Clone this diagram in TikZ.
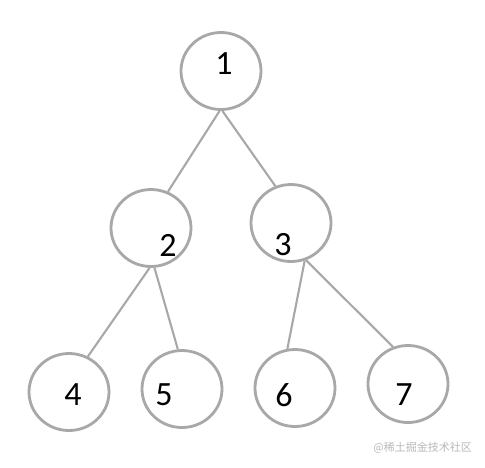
\documentclass[tikz,border=0pt]{standalone}
\usepackage{fontspec}
\setmainfont{Carlito}
\newfontfamily\cjk{Noto Sans CJK SC}
\usetikzlibrary{shapes.geometric}
\definecolor{ringgray}{RGB}{168,168,168}
\definecolor{markgray}{RGB}{185,185,185}
\tikzset{
  tnode/.style={draw=ringgray, line width=2.8pt, ellipse, minimum width=80pt, minimum height=77pt, inner sep=0pt},
  tlabel/.style={font=\fontsize{34}{34}\selectfont, text=black, inner sep=0pt},
  tedge/.style={draw=ringgray, line width=2.1pt},
}
\begin{document}
\begin{tikzpicture}[x=1pt,y=-1pt]
\useasboundingbox (0,0) rectangle (485,467);
\fill[white] (0,0) rectangle (485,467);
\node[tnode] (n1) at (221,71) {};
\node[tnode] (n2) at (151,228) {};
\node[tnode] (n3) at (291,223) {};
\node[tnode] (n4) at (69,392) {};
\node[tnode] (n5) at (182,389) {};
\node[tnode] (n6) at (295,388) {};
\node[tnode] (n7) at (408,384) {};
\node[tlabel] (t1) at (224,64) {1};
\node[tlabel] (t2) at (168,245) {2};
\node[tlabel] (t3) at (283,245) {3};
\node[tlabel] (t4) at (73,395) {4};
\node[tlabel] (t5) at (164,395) {5};
\node[tlabel] (t6) at (284,395) {6};
\node[tlabel] (t7) at (404,395) {7};
\draw[tedge] (n1.268) -- (n2.65);
\draw[tedge] (n1.272) -- (n3.113);
\draw[tedge] (n2.268) -- (n4.62);
\draw[tedge] (n2.275) -- (n5.96);
\draw[tedge] (n3.290) -- (n6.101);
\draw[tedge] (n3.292) -- (n7.112);
\node[font=\cjk\fontsize{11}{11}\selectfont, text=markgray, inner sep=0pt, anchor=east] (wm) at (472,448) {@稀土掘金技术社区};
\end{tikzpicture}
\end{document}
